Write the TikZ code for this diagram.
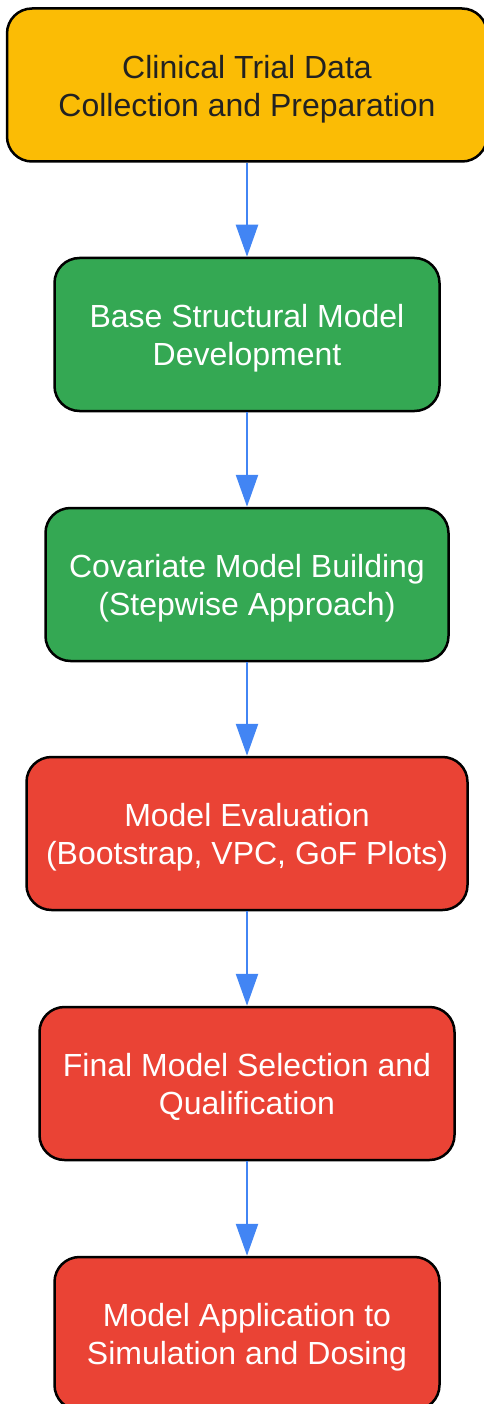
\documentclass[tikz,border=0pt]{standalone}
\usepackage{fontspec}
\setmainfont{Liberation Sans}
\usetikzlibrary{arrows.meta}
\definecolor{gyellow}{HTML}{FBBC05}
\definecolor{ggreen}{HTML}{34A853}
\definecolor{gred}{HTML}{EA4335}
\definecolor{gblue}{HTML}{4285F4}
\definecolor{darktext}{HTML}{222222}
\newcommand{\toppad}{\rule{0pt}{31pt}}
\tikzset{
  stepbox/.style={draw=black, line width=2.5pt, rounded corners=25pt,
    minimum height=153pt, align=center, inner sep=0pt,
    font=\fontsize{32pt}{38pt}\selectfont},
  flow/.style={draw=gblue, line width=2.5pt, -{Triangle[length=32pt,width=22pt]}}
}
\begin{document}
\begin{tikzpicture}[x=1pt,y=-1pt]
\useasboundingbox (0,0) rectangle (483,1404);
\node[stepbox, fill=gyellow, text=darktext, minimum width=480pt] (n1) at (247,85) {\toppad Clinical Trial Data\\Collection and Preparation};
\node[stepbox, fill=ggreen, text=white, minimum width=385pt] (n2) at (247,334.5) {\toppad Base Structural Model\\Development};
\node[stepbox, fill=ggreen, text=white, minimum width=403pt] (n3) at (247,584.5) {\toppad Covariate Model Building\\(Stepwise Approach)};
\node[stepbox, fill=gred, text=white, minimum width=441pt] (n4) at (247,833.5) {\toppad Model Evaluation\\(Bootstrap, VPC, GoF Plots)};
\node[stepbox, fill=gred, text=white, minimum width=415pt] (n5) at (247,1083.5) {\toppad Final Model Selection and\\Qualification};
\node[stepbox, fill=gred, text=white, minimum width=385pt] (n6) at (247,1333.5) {\toppad Model Application to\\Simulation and Dosing};
\draw[flow] (n1) -- (n2);
\draw[flow] (n2) -- (n3);
\draw[flow] (n3) -- (n4);
\draw[flow] (n4) -- (n5);
\draw[flow] (n5) -- (n6);
\end{tikzpicture}
\end{document}
